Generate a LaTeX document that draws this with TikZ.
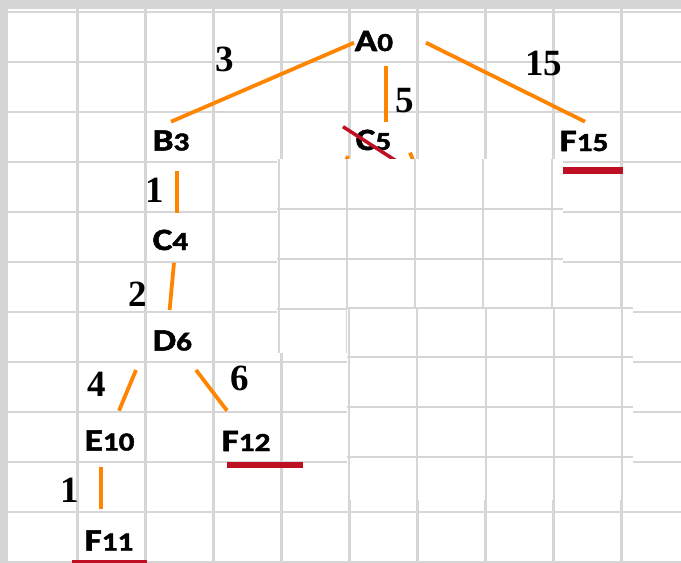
\documentclass[tikz,border=0pt]{standalone}
\usepackage{fontspec}
\usepackage{graphicx}
\usetikzlibrary{calc}
\newfontfamily\nodefont{Carlito}[BoldFeatures={FakeBold=1.6}]
\newfontfamily\wfont{Liberation Serif}
\definecolor{gridc}{RGB}{214,214,214}
\definecolor{edgec}{RGB}{255,133,0}
\definecolor{redc}{RGB}{190,15,35}
\definecolor{bandc}{RGB}{214,214,214}
\newcommand\lbl[2]{\scalebox{1.2}[1]{\fontsize{31}{31}\selectfont #1\fontsize{26}{26}\selectfont #2}}
\tikzset{
  vx/.style={text=black, inner sep=0pt, anchor=base west, font=\nodefont\bfseries},
  wt/.style={text=black, inner sep=0pt, anchor=base, font=\wfont\bfseries\fontsize{37}{37}\selectfont},
  edge/.style={draw=edgec, line width=3.8pt},
  gridline/.style={draw=gridc, line width=2.2pt},
  patchline/.style={draw=gridc, line width=2.2pt},
  strike/.style={draw=redc, line width=3.5pt},
  redmark/.style={fill=redc},
}
\begin{document}
\begin{tikzpicture}[x=1pt,y=-1pt]
\useasboundingbox (0,0) rectangle (681,563);
\fill[white] (0,0) rectangle (681,563);
\fill[bandc] (0,0) rectangle (681,9);
\fill[bandc] (0,0) rectangle (5,563);
% base grid
\foreach \y in {12,62,...,562} \draw[gridline] (5,\y) -- (681,\y);
\foreach \x in {6.5,77.5,145.5,213.5,281.5,349.5,417.5,485.5,553.5,621.5} \draw[gridline] (\x,9) -- (\x,563);
% vertices
\node[vx] (A0) at (354.5,51) {\lbl{A}{0}};
\node[vx] (B3) at (152.5,150.5) {\lbl{B}{3}};
\node[vx] (C5) at (355.5,150) {\lbl{C}{5}};
\node[vx] (F15) at (559.5,151) {\lbl{F}{15}};
\node[vx] (C4) at (152.5,250) {\lbl{C}{4}};
\node[vx] (D6) at (152.5,350.5) {\lbl{D}{6}};
\node[vx] (E10) at (84.5,450.5) {\lbl{E}{10}};
\node[vx] (F12) at (221.5,451) {\lbl{F}{12}};
\node[vx] (F11) at (84.5,550.5) {\lbl{F}{11}};
% edges
\draw[edge] ($(A0.base west)+(-0.5,-8.3)$) -- ($(B3.base west)+(18.5,-28.8)$);
\draw[edge] ($(A0.base west)+(31.2,14.7)$) -- ($(C5.base west)+(30.2,-28.3)$);
\draw[edge] ($(A0.base west)+(71.5,-8.3)$) -- ($(F15.base west)+(25.5,-29.3)$);
\draw[edge] ($(B3.base west)+(24.2,20.2)$) -- ($(C4.base west)+(24.2,-37)$);
\draw[edge] ($(C4.base west)+(21.5,12.7)$) -- ($(D6.base west)+(17.1,-40.5)$);
\draw[edge] ($(D6.base west)+(-16.5,19.5)$) -- ($(E10.base west)+(34.5,-39.8)$);
\draw[edge] ($(D6.base west)+(43.5,19.5)$) -- ($(F12.base west)+(5.5,-40.3)$);
\draw[edge] ($(E10.base west)+(16.8,16.2)$) -- ($(F11.base west)+(16.8,-41.5)$);
% stubs below C5 (hidden by the pasted patch)
\coordinate (s1) at ($(C5.base west)+(60.5,17)$);
\coordinate (s2) at ($(C5.base west)+(-11.5,16)$);
\draw[edge] ($(C5.base west)+(54.5,2.7)$) -- (s1);
\draw[edge] ($(C5.base west)+(-7.5,6)$) -- (s2);
% strike through C5
\coordinate (s3) at ($(C5.base west)+(-12.5,-23.3)$);
\coordinate (s4) at ($(C5.base west)+(45.5,14)$);
\draw[strike] (s3) -- (s4);
% patch 1
\begin{scope}
\clip (277,159) rectangle (563,353);
\fill[white] (277,159) rectangle (563,353);
\foreach \x in {279,347,415,483,552} \draw[patchline] (\x,159) -- (\x,353);
\foreach \y in {209,259,309} \draw[patchline] (277,\y) -- (563,\y);
\end{scope}
% patch 2
\begin{scope}
\clip (347,307) rectangle (633,500);
\fill[white] (347,307) rectangle (633,500);
\foreach \x in {349,417,486,554,622} \draw[patchline] (\x,307) -- (\x,500);
\foreach \y in {308,357,407,457} \draw[patchline] (347,\y) -- (633,\y);
\end{scope}
% red underlines
\fill[redmark] ($(F15.base west)+(3.5,15.7)$) rectangle ($(F15.base west)+(63.2,23)$);
\fill[redmark] ($(F12.base west)+(5.5,11)$) rectangle ($(F12.base west)+(81.5,17)$);
\fill[redmark] ($(F11.base west)+(-12.8,9.8)$) rectangle ($(F11.base west)+(62.5,15.5)$);
% weights
\node[wt] (w1) at (224.75,71) {3};
\node[wt] (w2) at (543.5,75) {15};
\node[wt] (w3) at (404.7,112.3) {5};
\node[wt] (w4) at (154.5,202) {1};
\node[wt] (w5) at (137.5,306.7) {2};
\node[wt] (w6) at (97,396.7) {4};
\node[wt] (w7) at (240,390) {6};
\node[wt] (w8) at (69.5,502.7) {1};
\end{tikzpicture}
\end{document}
